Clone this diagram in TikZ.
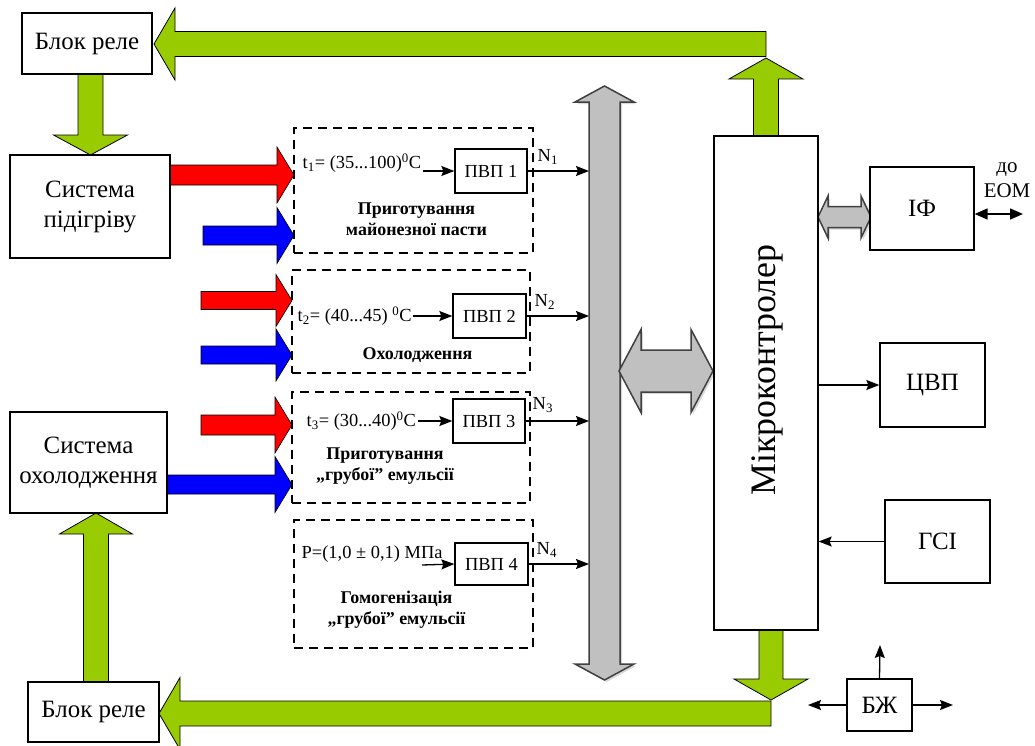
\documentclass[tikz,border=0pt]{standalone}
\usepackage{fontspec}
\setmainfont{Liberation Serif}
\usepackage{tikz}
\usetikzlibrary{arrows.meta}
\definecolor{relayArrowColor}{HTML}{99CC00}
\definecolor{hotArrowColor}{HTML}{FF0000}
\definecolor{coldArrowColor}{HTML}{0000FF}
\definecolor{busFillColor}{HTML}{C0C0C0}
\definecolor{busLineColor}{HTML}{404040}
\definecolor{busShadowColor}{HTML}{D9D9D9}
\def\textRelay{Блок реле}
\def\textHeater{Система\\підігріву}
\def\textCooler{Система\\охолодження}
\def\textMcu{Мікроконтролер}
\def\textGroupA{Приготування\\майонезної пасти}
\def\textGroupB{Охолодження}
\def\textGroupC{Приготування\\„грубої” емульсії}
\def\textGroupD{Гомогенізація\\„грубої” емульсії}

% block arrow: style, x, y, angle, length, shaft half, head half, head length
\newcommand{\blockArrow}[8]{%
\path[#1, shift={(#2,#3)}, rotate=#4]
(0,-#6) -- ({#5-#8},-#6) -- ({#5-#8},-#7) -- (#5,0) -- ({#5-#8},#7) -- ({#5-#8},#6) -- (0,#6) -- cycle;}
% double block arrow: same arguments
\newcommand{\dblArrow}[8]{%
\path[#1, shift={(#2,#3)}, rotate=#4]
(0,0) -- (#8,-#7) -- (#8,-#6) -- ({#5-#8},-#6) -- ({#5-#8},-#7) -- (#5,0) -- ({#5-#8},#7) -- ({#5-#8},#6) -- (#8,#6) -- (#8,#7) -- cycle;}

\begin{document}
\begin{tikzpicture}[x=1bp,y=-1bp,
  plainBox/.style={draw, line width=1.3bp, fill=white, inner sep=0pt},
  groupBox/.style={draw, line width=1.6bp, dash pattern=on 9bp off 6bp, inner sep=0pt},
  bigText/.style={font=\fontsize{25}{30}\selectfont, align=center},
  smallText/.style={font=\fontsize{18.5}{21}\selectfont, inner sep=1.5bp},
  groupText/.style={font=\bfseries\fontsize{18}{21}\selectfont, align=center},
  link/.style={line width=1.3bp, -{Stealth[length=13bp, width=10bp, inset=2bp]}},
  dlink/.style={line width=1.5bp, {Triangle[length=13bp, width=11bp]}-{Triangle[length=13bp, width=11bp]}},
  greenArrow/.style={fill=relayArrowColor, draw=black, line width=0.8bp},
  hotArrow/.style={fill=hotArrowColor, draw=black, line width=0.6bp},
  coldArrow/.style={fill=coldArrowColor, draw=black, line width=0.6bp},
  busArrow/.style={fill=busFillColor, draw=busLineColor, line width=1.5bp},
  busShadow/.style={fill=busShadowColor}]

\useasboundingbox (0,0) rectangle (1035,746);

% block arrows layer
\begin{scope}
% bus
\dblArrow{busShadow}{606.5}{682}{90}{594}{15.5}{29.5}{16}
\dblArrow{busArrow}{604.5}{680}{90}{594}{15.5}{29.5}{16}
\dblArrow{busShadow}{621}{373}{0}{94}{21}{41.5}{22}
\dblArrow{busArrow}{619}{371}{0}{94}{21}{41.5}{22}
\dblArrow{busShadow}{820}{219}{0}{53}{10.5}{21}{10}
\dblArrow{busArrow}{818}{217}{0}{53}{10.5}{21}{10}
% relay arrows
\blockArrow{greenArrow}{766}{136}{90}{78}{12.5}{37}{21}
\blockArrow{greenArrow}{766}{44}{180}{612}{12.5}{36}{21}
\blockArrow{greenArrow}{90.5}{74}{-90}{81}{12.5}{37}{20}
\blockArrow{greenArrow}{771}{630}{-90}{70}{12}{37}{21}
\blockArrow{greenArrow}{771}{713.5}{180}{612}{12.5}{36}{21}
\blockArrow{greenArrow}{96}{682}{90}{169}{12.5}{36.5}{21}
% heating and cooling
\blockArrow{hotArrow}{170}{175}{0}{124}{10}{28}{17}
\blockArrow{coldArrow}{203}{235.5}{0}{91}{9.5}{28}{17}
\blockArrow{hotArrow}{201}{300.5}{0}{91}{9}{26}{16}
\blockArrow{coldArrow}{201}{355}{0}{91}{9}{26}{16}
\blockArrow{hotArrow}{201}{425}{0}{91}{10}{28}{17}
\blockArrow{coldArrow}{167}{484.5}{0}{125}{9.5}{28}{17}
\end{scope}

% box layer
\begin{scope}
\node[plainBox, bigText, minimum width=130bp, minimum height=61bp] (relayTop) at (87,43.5) {\textRelay};
\node[plainBox, bigText, minimum width=160bp, minimum height=103bp] (heater) at (90,206.5) {\textHeater};
\node[plainBox, bigText, minimum width=157bp, minimum height=101bp] (cooler) at (88.5,462.5) {\textCooler};
\node[plainBox, bigText, minimum width=131bp, minimum height=60bp] (relayBot) at (93.5,712) {\textRelay};

\node[groupBox, minimum width=239bp, minimum height=125bp] (groupA) at (413.5,190.5) {};
\node[groupBox, minimum width=238bp, minimum height=103bp] (groupB) at (411,321.5) {};
\node[groupBox, minimum width=238bp, minimum height=111bp] (groupC) at (411,447.5) {};
\node[groupBox, minimum width=239bp, minimum height=128bp] (groupD) at (413.5,584) {};

\node[plainBox, smallText, minimum width=72bp, minimum height=44bp] (pvpA) at (491,171) {ПВП 1};
\node[plainBox, smallText, minimum width=73bp, minimum height=44bp] (pvpB) at (489.5,316) {ПВП 2};
\node[plainBox, smallText, minimum width=72bp, minimum height=44bp] (pvpC) at (489,421) {ПВП 3};
\node[plainBox, smallText, minimum width=73bp, minimum height=42bp] (pvpD) at (491.5,564) {ПВП 4};

\node[plainBox, minimum width=104bp, minimum height=494bp] (mcu) at (766,383) {};
\node[font=\fontsize{36}{40}\selectfont, rotate=90] (mcuLabel) at (767,370) {\textMcu};

\node[plainBox, bigText, minimum width=104bp, minimum height=83bp] (iface) at (922,208.5) {ІФ};
\node[plainBox, bigText, minimum width=105bp, minimum height=84bp] (dac) at (932.5,385) {ЦВП};
\node[plainBox, bigText, minimum width=105bp, minimum height=83bp] (clock) at (937.5,541.5) {ГСІ};
\node[plainBox, bigText, minimum width=65bp, minimum height=52bp] (psu) at (879.5,705) {БЖ};
\end{scope}

% label layer
\begin{scope}
\node[smallText, anchor=west] (tempA) at (301,163) {t\textsubscript{1}= (35...100)\textsuperscript{0}C};
\node[smallText, anchor=west] (tempB) at (296,316) {t\textsubscript{2}= (40...45) \textsuperscript{0}C};
\node[smallText, anchor=west] (tempC) at (305,421) {t\textsubscript{3}= (30...40)\textsuperscript{0}C};
\node[smallText, anchor=west] (press) at (300,554) {P=(1,0 ± 0,1) МПа};
\coordinate (pressIn) at (422,565);

\node[smallText, anchor=west] (nA) at (536,157) {N\textsubscript{1}};
\node[smallText, anchor=west] (nB) at (533,302) {N\textsubscript{2}};
\node[smallText, anchor=west] (nC) at (531,405) {N\textsubscript{3}};
\node[smallText, anchor=west] (nD) at (535,550) {N\textsubscript{4}};

\node[groupText] (labelA) at (416.5,219.5) {\textGroupA};
\node[groupText] (labelB) at (417.5,355) {\textGroupB};
\node[groupText] (labelC) at (385,466) {\textGroupC};
\node[groupText] (labelD) at (396.5,610) {\textGroupD};

\node[font=\fontsize{21}{25}\selectfont, align=center] (eomLabel) at (1007,180) {до\\ЕОМ};
\end{scope}

% link layer
\begin{scope}
\coordinate (busIn) at (589,0);
\coordinate (eom) at (1023,214);
\coordinate (psuUp) at (880,645);
\coordinate (psuLeft) at (808,705);
\coordinate (psuRight) at (953,705);

\draw[link] (tempA.east |- pvpA.west) -- (pvpA.west);
\draw[link] (tempB.east |- pvpB.west) -- (pvpB.west);
\draw[link] (tempC.east |- pvpC.west) -- (pvpC.west);
\draw[link] (pressIn) -- (pvpD.west);

\draw[link] (pvpA.east) -- (pvpA.east -| busIn);
\draw[link] (pvpB.east) -- (pvpB.east -| busIn);
\draw[link] (pvpC.east) -- (pvpC.east -| busIn);
\draw[link] (pvpD.east) -- (pvpD.east -| busIn);

\draw[link] (mcu.east |- dac.west) -- (dac.west);
\draw[link] (clock.west) -- (clock.west -| mcu.east);
\draw[dlink] (iface.east |- eom) -- (eom);

\draw[link] (psu.north) -- (psuUp);
\draw[link] (psu.west) -- (psuLeft);
\draw[link] (psu.east) -- (psuRight);
\end{scope}
\end{tikzpicture}
\end{document}
